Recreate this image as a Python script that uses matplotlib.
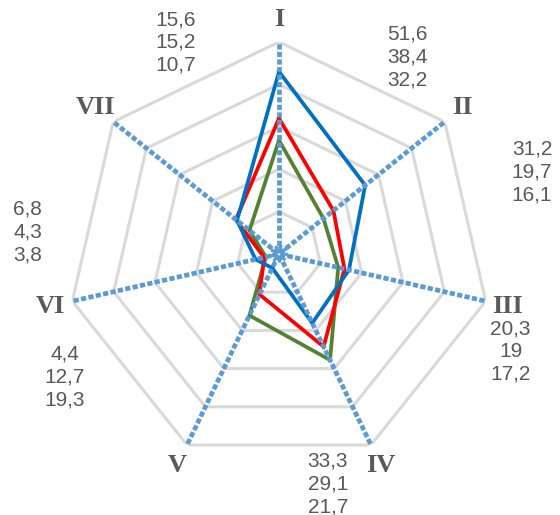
import numpy as np
import matplotlib
matplotlib.use('Agg')
import matplotlib.pyplot as plt

# data
axis_names = ['I', 'II', 'III', 'IV', 'V', 'VI', 'VII']
blue_vals = [51.6, 31.2, 20.3, 21.7, 4.4, 6.8, 15.2]
red_vals = [38.4, 19.7, 19.0, 29.1, 12.7, 4.3, 15.6]
green_vals = [32.2, 16.1, 17.2, 33.3, 19.3, 3.8, 10.7]
# value labels as printed next to each axis (top to bottom)
value_labels = [
    ['51,6', '38,4', '32,2'],
    ['31,2', '19,7', '16,1'],
    ['20,3', '19', '17,2'],
    ['33,3', '29,1', '21,7'],
    ['4,4', '12,7', '19,3'],
    ['6,8', '4,3', '3,8'],
    ['15,6', '15,2', '10,7'],
]
r_max = 60
ring_step = 12

# label placement (angle in degrees clockwise from top, radius in axis units)
label_ang = [33.2, 72, 112.8, 168, 240.1, 275, 334]
label_rad = [1.11, 1.255, 1.185, 1.11, 1.165, 1.19, 1.11]
name_rad = 1.105

n = len(axis_names)
theta = np.arange(n) * 2 * np.pi / n
closed = np.append(theta, theta[0])

fig = plt.figure(figsize=(5.6, 5.15), dpi=100)
ax = fig.add_axes([67/560, 49/515, 424/560, 424/515], projection='polar')
ax.set_theta_offset(np.pi / 2)
ax.set_theta_direction(-1)
ax.set_ylim(0, r_max)
ax.grid(False)
ax.spines['polar'].set_visible(False)
ax.set_xticks([])
ax.set_yticks([])
ax.patch.set_visible(False)

# heptagon grid
for v in np.arange(ring_step, r_max + 1, ring_step):
    ax.plot(closed, [v] * (n + 1), color='#D9D9D9', lw=2.2, zorder=1,
            solid_joinstyle='miter')

# series
for vals, col in [(green_vals, '#548235'), (red_vals, '#FF0000'), (blue_vals, '#0070C0')]:
    ax.plot(closed, vals + vals[:1], color=col, lw=2.7, zorder=3,
            solid_joinstyle='miter')

# dotted spokes
for t in theta:
    ax.plot([t, t], [0.4, r_max], color='#5B9BD5', lw=3.4,
            linestyle=(0, (1.1, 0.5)), dash_capstyle='butt', zorder=4)
ax.plot(closed, [2.2] * (n + 1), color='#5B9BD5', lw=2.4,
        linestyle=(0, (1.0, 0.6)), dash_capstyle='butt', zorder=4)

# axis names
for t, name in zip(theta, axis_names):
    ax.text(t, r_max * name_rad, name, ha='center', va='center',
            fontsize=19, fontweight='bold', family='Liberation Serif',
            color='#595959')

# value labels
for ang, rad, labs in zip(label_ang, label_rad, value_labels):
    ax.text(np.deg2rad(ang), r_max * rad, '\n'.join(labs), ha='center', va='center',
            fontsize=15, family='Liberation Sans', color='#595959',
            linespacing=1.25, multialignment='center')

fig.savefig('out.png', dpi=100)
